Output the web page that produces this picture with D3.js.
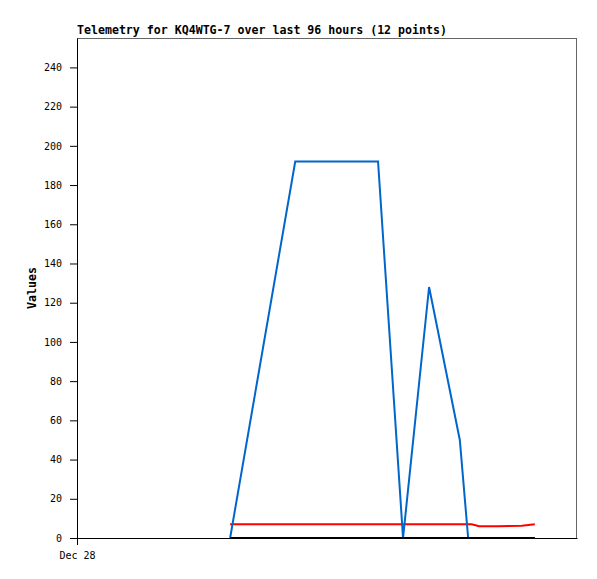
<!DOCTYPE html>
<html>
<head>
<meta charset="utf-8">
<script src="https://cdn.jsdelivr.net/npm/d3@7"></script>
<style>
  body { margin: 0; background: #fff; }
  svg { display: block; }
</style>
</head>
<body>
<div id="chart"></div>
<script>
// telemetry samples, times (96 hours starting Dec 28)
var times = ["2023-12-29T05:24", "2023-12-29T17:54", "2023-12-30T09:48", "2023-12-30T14:36",
             "2023-12-30T19:36", "2023-12-31T01:30", "2023-12-31T03:06", "2023-12-31T03:48",
             "2023-12-31T05:12", "2023-12-31T08:48", "2023-12-31T13:24", "2023-12-31T15:54"];
var blueValues  = [0, 192, 192, 0, 128, 50, 0, 0, 0, 0, 0, 0];
var redValues   = [7, 7, 7, 7, 7, 7, 7, 7, 6, 6, 6.3, 7];
var blackValues = [0, 0, 0, 0, 0, 0, 0, 0, 0, 0, 0, 0];
var yTicks = [0, 20, 40, 60, 80, 100, 120, 140, 160, 180, 200, 220, 240];
var xTickLabels = ["Dec 28"];
var titleText = "Telemetry for KQ4WTG-7 over last 96 hours (12 points)";

var margin = { top: 38, right: 20, bottom: 41, left: 77 };
var width = 597 - margin.left - margin.right,
    height = 579 - margin.top - margin.bottom;

var mono = "'DejaVu Sans Mono', monospace";

var svg = d3.select("#chart").append("svg")
    .attr("width", 597)
    .attr("height", 579)
    .style("font-family", mono);

var g = svg.append("g")
    .attr("transform", "translate(" + margin.left + "," + margin.top + ")");

var parse = d3.timeParse("%Y-%m-%dT%H:%M");
var start = parse("2023-12-28T00:00");
var end = d3.timeHour.offset(start, 96);

var x = d3.scaleTime().domain([start, end]).range([0, width]);
var y = d3.scaleLinear().domain([0, 255]).range([height, 0]);

// frame (top and right in grey)
g.append("path")
    .attr("d", "M0,0.5H" + (width - 0.5) + "V" + height)
    .attr("fill", "none")
    .attr("stroke", "#666")
    .attr("shape-rendering", "crispEdges");

// y axis
var yAxis = g.append("g")
    .call(d3.axisLeft(y).tickValues(yTicks).tickSize(7).tickPadding(8).tickSizeOuter(0));
yAxis.attr("font-family", mono);
yAxis.select(".domain").attr("stroke", "#000");
yAxis.selectAll("text").style("font-size", "10px").attr("fill", "#000");

// x axis
var xAxis = g.append("g")
    .attr("transform", "translate(0," + height + ")")
    .call(d3.axisBottom(x).tickValues([start]).tickFormat(function (d, i) { return xTickLabels[i]; })
        .tickSize(7).tickPadding(7).tickSizeOuter(0));
xAxis.attr("font-family", mono);
xAxis.selectAll("text").style("font-size", "10px").attr("fill", "#000");

// series
var pts = times.map(parse);
function drawLine(vals, color) {
    var line = d3.line()
        .x(function (d, i) { return x(pts[i]); })
        .y(function (d) { return y(d); });
    g.append("path")
        .datum(vals)
        .attr("d", line)
        .attr("fill", "none")
        .attr("stroke", color)
        .attr("stroke-width", 2);
}
drawLine(redValues, "#ff0000");
drawLine(blueValues, "#0066cc");
drawLine(blackValues, "#000000");

// title
svg.append("text")
    .attr("x", margin.left)
    .attr("y", 34)
    .style("font-size", "11.6px")
    .style("font-weight", "bold")
    .text(titleText);

// y label
svg.append("text")
    .attr("transform", "translate(36," + (margin.top + height / 2) + ") rotate(-90)")
    .attr("text-anchor", "middle")
    .style("font-size", "11.6px")
    .style("font-weight", "bold")
    .text("Values");
</script>
</body>
</html>
